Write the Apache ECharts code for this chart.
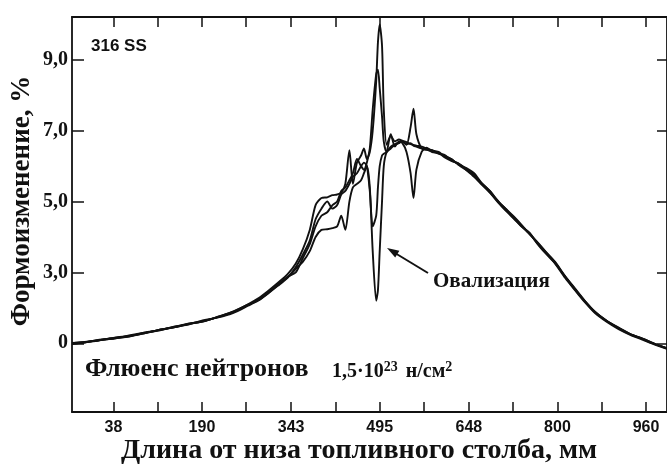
<!DOCTYPE html>
<html><head><meta charset="utf-8">
<script src="https://cdn.jsdelivr.net/npm/echarts@6/dist/echarts.min.js"></script>
<style>html,body{margin:0;padding:0;background:#fff}#c{width:667px;height:464px}</style>
</head><body><div id="c"></div>
<script>
// x positions along the fuel column, mm
const xs = [-33,-11,14,40,65,91,116,142,167,193,218,244,269,286,303,320,337,351,363,375,385,395,405,414,422,429,436,443,449,456,463,468,473,478,483,489,492,495,499,502,507,514,521,528,534,541,548,553,558,567,575,585,596,606,618,630,643,657,670,684,698,711,725,738,752,766,779,796,813,830,847,864,885,905,925,946,966,988];
// four diameter traces (axis units)
const traceA = [1.00,1.04,1.08,1.16,1.21,1.28,1.38,1.45,1.55,1.62,1.75,1.90,2.10,2.26,2.47,2.70,2.95,3.25,3.65,4.20,4.90,5.10,5.12,5.18,5.20,5.25,5.50,6.45,5.50,6.10,6.30,6.50,6.20,6.40,7.00,8.40,9.50,10.00,9.40,7.60,6.60,6.85,6.70,6.75,6.72,6.68,6.62,6.60,6.58,6.55,6.50,6.45,6.35,6.30,6.20,6.05,5.95,5.80,5.52,5.30,5.02,4.80,4.58,4.35,4.08,3.85,3.60,3.30,2.90,2.55,2.20,1.90,1.63,1.44,1.26,1.13,0.99,0.86];
const traceB = [0.98,1.02,1.10,1.13,1.22,1.30,1.36,1.47,1.53,1.65,1.73,1.86,2.06,2.20,2.40,2.62,2.85,3.10,3.30,3.60,4.00,4.20,4.22,4.25,4.30,4.60,4.20,5.00,5.40,5.50,5.60,5.80,6.00,5.40,3.60,2.20,2.50,3.60,5.00,6.00,6.40,6.50,6.60,6.65,6.70,6.62,6.65,6.58,6.55,6.50,6.48,6.40,6.38,6.25,6.15,6.08,5.90,5.70,5.48,5.25,4.98,4.75,4.52,4.30,4.12,3.80,3.55,3.25,2.85,2.50,2.16,1.86,1.60,1.40,1.24,1.10,0.97,0.84];
const traceC = [1.01,1.03,1.09,1.15,1.19,1.30,1.37,1.46,1.55,1.63,1.74,1.88,2.08,2.22,2.42,2.64,2.88,3.00,3.40,3.80,4.30,4.60,4.70,4.90,5.00,5.30,5.40,5.60,5.80,6.20,6.00,5.90,6.10,6.50,7.60,8.60,8.72,8.20,7.40,6.70,6.40,6.55,6.62,6.66,6.70,6.60,7.10,7.62,6.90,6.50,6.46,6.44,6.40,6.28,6.20,6.04,5.90,5.75,5.50,5.26,5.01,4.76,4.56,4.33,4.10,3.82,3.58,3.28,2.88,2.52,2.18,1.88,1.62,1.42,1.25,1.12,0.98,0.85];
const traceD = [0.99,1.03,1.09,1.14,1.20,1.28,1.38,1.45,1.54,1.62,1.75,1.89,2.09,2.21,2.41,2.66,2.86,3.15,3.50,3.90,4.50,4.80,5.00,4.80,4.90,5.20,5.30,5.50,5.70,5.80,6.00,6.10,6.00,5.30,4.30,4.60,5.40,6.00,6.30,6.35,6.40,6.90,6.55,6.70,6.65,6.40,5.80,5.10,5.90,6.40,6.52,6.42,6.36,6.32,6.16,6.07,5.93,5.72,5.52,5.30,4.99,4.80,4.53,4.31,4.09,3.83,3.59,3.26,2.89,2.53,2.19,1.89,1.63,1.43,1.26,1.13,0.99,0.86];
// axis ticks and labels
const xTickValues = [38,114,190,266,343,419,495,571,648,724,800,876,952];
const xLabelValues = [38,190,343,495,648,800,952];
const xLabelTexts = ['38','190','343','495','648','800','960'];
const yTickValues = [1,3,5,7,9];
const yLabelTexts = ['0','3,0','5,0','7,0','9,0'];

const chart = echarts.init(document.getElementById('c'), null, {renderer:'canvas'});
const serif = '"Liberation Serif","Times New Roman",serif';
const sans = '"Liberation Sans",Arial,sans-serif';
const lineStyle = {color:'#111', width:1.9};
function mk(arr){ return xs.map((x,i)=>[x, arr[i]]); }
const series = [traceA, traceB, traceC, traceD].map(t => ({
  type:'line', data: mk(t), symbol:'none', smooth:0.25, lineStyle, silent:true, animation:false
}));
const axLine = {show:true, onZero:false, lineStyle:{color:'#111', width:1.8}};
chart.setOption({
  backgroundColor:'#fff',
  animation:false,
  grid:{left:72, top:17, right:-6, bottom:52, containLabel:false},
  xAxis:[{
    type:'value', min:-33, max:988, position:'bottom',
    axisLine:axLine,
    axisTick:{show:true, inside:true, length:10, customValues:xTickValues, lineStyle:{color:'#111', width:1.5}},
    axisLabel:{show:true, customValues:xLabelValues, margin:8, color:'#111', fontFamily:sans, fontWeight:'bold', fontSize:16,
      formatter:v=>xLabelTexts[xLabelValues.indexOf(v)]},
    splitLine:{show:false}
  },{
    type:'value', min:-33, max:988, position:'top',
    axisLine:axLine,
    axisTick:{show:true, inside:true, length:10, customValues:xTickValues, lineStyle:{color:'#111', width:1.5}},
    axisLabel:{show:false}, splitLine:{show:false}
  }],
  yAxis:[{
    type:'value', min:-0.94, max:10.21, position:'left',
    axisLine:axLine,
    axisTick:{show:true, inside:true, length:12, customValues:yTickValues, lineStyle:{color:'#111', width:1.5}},
    axisLabel:{show:true, customValues:yTickValues, margin:4, color:'#111', fontFamily:serif, fontWeight:'bold', fontSize:20,
      formatter:v=>yLabelTexts[yTickValues.indexOf(v)]},
    splitLine:{show:false}
  },{
    type:'value', min:-0.94, max:10.21, position:'right',
    axisLine:axLine,
    axisTick:{show:true, inside:true, length:10, customValues:yTickValues, lineStyle:{color:'#111', width:1.5}},
    axisLabel:{show:false}, splitLine:{show:false}
  }],
  series: series,
  graphic:[
    {type:'text', left:91, top:38, style:{text:'316 SS', fill:'#111', font:'bold 17px '+sans}},
    {type:'text', x:22, y:201, rotation:Math.PI/2, style:{text:'Формоизменение, %', fill:'#111', font:'bold 27px '+serif, align:'center', verticalAlign:'middle'}},
    {type:'text', x:359, y:451, style:{text:'Длина от низа топливного столба, мм', fill:'#111', font:'bold 28px '+serif, align:'center', verticalAlign:'middle'}},
    {type:'text', x:85, y:369, style:{text:'Флюенс нейтронов', fill:'#111', font:'bold 26px '+serif, align:'left', verticalAlign:'middle'}},
    {type:'text', x:332, y:372, style:{
      text:'{a|1,5·10}{s|23}{g| }{a|н/см}{s|2}', verticalAlign:'middle', align:'left',
      rich:{a:{font:'bold 20px '+serif, fill:'#111', color:'#111'}, g:{font:'bold 20px '+serif, width:8},
            s:{font:'bold 14px '+serif, fill:'#111', color:'#111', verticalAlign:'top', padding:[0,0,10,0]}}
    }},
    {type:'text', x:433, y:282, style:{text:'Овализация', fill:'#111', font:'bold 21px '+serif, align:'left', verticalAlign:'middle'}},
    {type:'line', shape:{x1:428, y1:273, x2:395, y2:253}, style:{stroke:'#111', lineWidth:2}},
    {type:'polygon', shape:{points:[[387,248],[399.4,250.8],[395.2,257.6]]}, style:{fill:'#111'}}
  ]
});
</script></body></html>
